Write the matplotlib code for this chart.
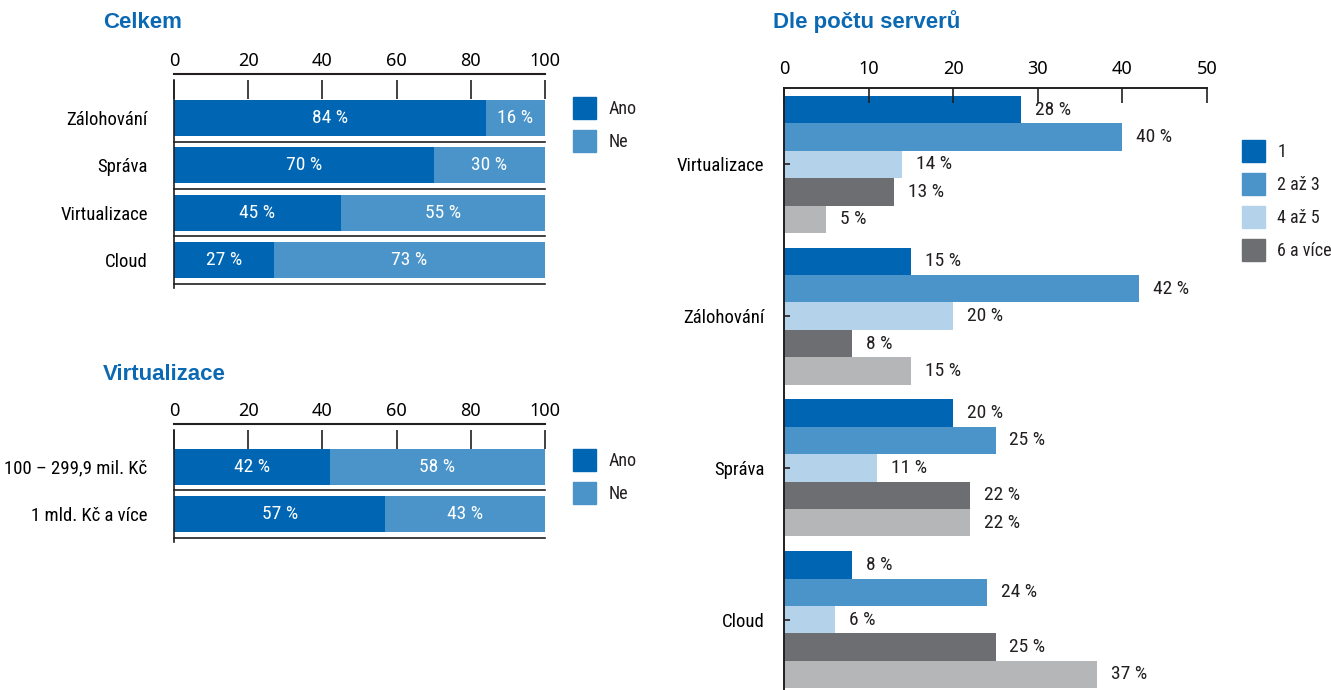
import matplotlib
matplotlib.use("Agg")
import matplotlib.pyplot as plt
from matplotlib.patches import Patch
from matplotlib.transforms import ScaledTranslation

# data
celkem_cats = ["Zálohování", "Správa", "Virtualizace", "Cloud"]
celkem_ano = [84, 70, 45, 27]
celkem_ne = [16, 30, 55, 73]

virt_cats = ["100 – 299,9 mil. Kč", "1 mld. Kč a více"]
virt_ano = [42, 57]
virt_ne = [58, 43]

server_cats = ["Virtualizace", "Zálohování", "Správa", "Cloud"]
server_names = ["1", "2 až 3", "4 až 5", "6 a více", None]
server_vals = [
    [28, 15, 20, 8],
    [40, 42, 25, 24],
    [14, 20, 11, 6],
    [13, 8, 22, 25],
    [5, 15, 22, 37],
]

# style
DARK = "#0066b3"
MID = "#4a94c9"
LIGHT = "#b4d2ea"
GREY_D = "#6d6e72"
GREY_L = "#b5b6b8"
INK = "#231f20"
TITLE = "#0b69b4"
server_colors = [DARK, MID, LIGHT, GREY_D, GREY_L]

NARROW = ["Roboto Condensed", "DejaVu Sans"]
NUMF = ["Noto Sans", "DejaVu Sans"]
plt.rcParams["font.family"] = NARROW
plt.rcParams["font.stretch"] = "condensed"
plt.rcParams["text.color"] = INK

W, H = 1331, 690
fig = plt.figure(figsize=(W / 100, H / 100), dpi=100)


def px_axes(left, top, right, bottom):
    return fig.add_axes([left / W, 1 - bottom / H, (right - left) / W, (bottom - top) / H])


def title(x, y, s):
    fig.text(x / W, 1 - y / H, s, fontsize=16, fontweight="bold", color=TITLE,
             family="Liberation Sans", fontstretch="normal", ha="left", va="center")


def stacked(ax, cats, ano, ne, ylim):
    y = list(range(len(cats)))
    ax.barh(y, ano, height=0.76, color=DARK, label="Ano")
    ax.barh(y, ne, left=ano, height=0.76, color=MID, label="Ne")
    for vals, lefts in ((ano, [0] * len(ano)), (ne, ano)):
        for yy, v, l in zip(y, vals, lefts):
            ax.text(l + v / 2, yy, f"{v} %", color="white", ha="center", va="center", fontsize=14)
    # separators between rows
    for yy in y:
        ax.plot([0, 100], [yy + 0.5, yy + 0.5], color=INK, lw=1.2, clip_on=False)
    ax.set_xlim(0, 100)
    ax.set_ylim(*ylim)
    ax.set_yticks(y)
    ax.set_yticklabels(cats, fontsize=13.5)
    ax.set_xticks(range(0, 101, 20))
    ax.xaxis.tick_top()
    ax.tick_params(axis="x", direction="in", length=13.5, width=1.2, color=INK, pad=7,
                   labelsize=13, labelfontfamily=NUMF)
    ax.tick_params(axis="y", length=0, pad=19)
    for s in ["top", "right", "bottom"]:
        ax.spines[s].set_visible(False)
    ax.spines["left"].set_color(INK)
    ax.spines["left"].set_linewidth(1.2)
    # top rule sits a little above the ticks
    off = ScaledTranslation(0, 4 / 72, fig.dpi_scale_trans)
    ax.plot([0, 1], [1, 1], transform=ax.transAxes + off, color=INK, lw=1.5, clip_on=False)


def legend(handles, x, y):
    fig.legend(handles=handles, loc="upper left", bbox_to_anchor=(x / W, 1 - y / H),
               frameon=False, fontsize=13, handlelength=1.25, handleheight=1.5,
               handletextpad=0.7, labelspacing=0.6, borderpad=0, borderaxespad=0)


# Celkem
ax1 = px_axes(174, 80, 545, 288)
stacked(ax1, celkem_cats, celkem_ano, celkem_ne, (3.59, -0.80))
title(103, 22, "Celkem")
legend([Patch(color=DARK, label="Ano"), Patch(color=MID, label="Ne")], 573, 97)

# Virtualizace
ax2 = px_axes(174, 430, 545, 542)
stacked(ax2, virt_cats, virt_ano, virt_ne, (1.59, -0.77))
title(103, 374, "Virtualizace")
legend([Patch(color=DARK, label="Ano"), Patch(color=MID, label="Ne")], 573, 449)

# Dle počtu serverů
ax3 = px_axes(784, 88, 1207, 690)
bh = 0.1806
groups = list(range(len(server_cats)))
for j, (vals, col) in enumerate(zip(server_vals, server_colors)):
    pos = [g + (j - 2) * bh for g in groups]
    ax3.barh(pos, vals, height=bh, color=col)
    for p, v in zip(pos, vals):
        ax3.annotate(f"{v} %", (v, p), xytext=(10, 0), textcoords="offset points",
                     ha="left", va="center", fontsize=14)
ax3.set_xlim(0, 50)
ax3.set_ylim(3.464, -0.504)
ax3.set_xticks(range(0, 51, 10))
ax3.set_yticks(groups)
ax3.set_yticklabels(server_cats, fontsize=13.5)
ax3.xaxis.tick_top()
ax3.tick_params(axis="x", direction="in", length=11, width=1.2, color=INK, pad=7,
                labelsize=13, labelfontfamily=NUMF)
ax3.tick_params(axis="y", direction="in", length=4.5, width=1.2, color=INK, pad=14)
for s in ["right", "bottom"]:
    ax3.spines[s].set_visible(False)
for s in ["top", "left"]:
    ax3.spines[s].set_color(INK)
    ax3.spines[s].set_linewidth(1.4)
title(773, 22, "Dle počtu serverů")
legend([Patch(color=c, label=n) for c, n in zip(server_colors, server_names) if n], 1242, 140)

fig.savefig("out.png", dpi=100)
